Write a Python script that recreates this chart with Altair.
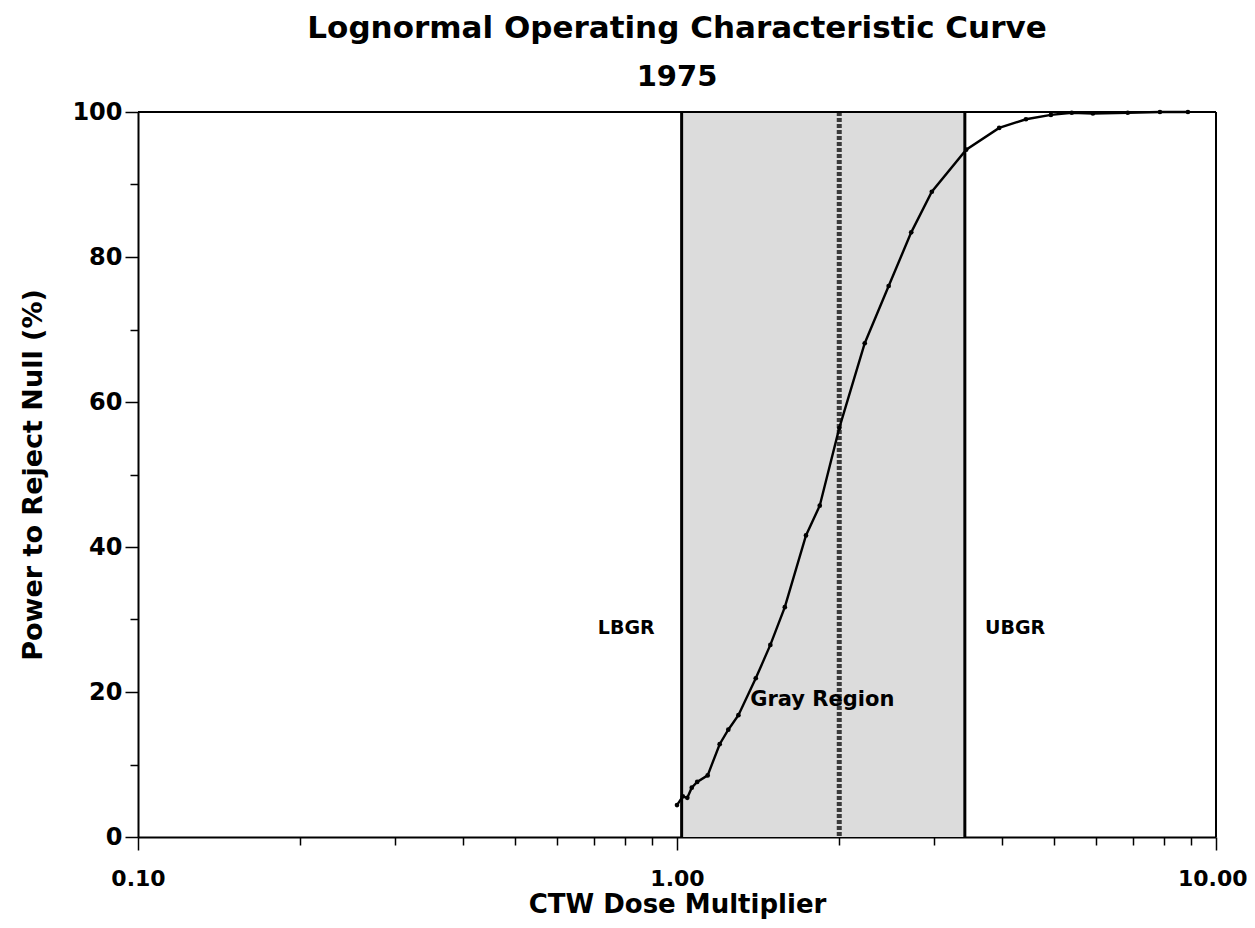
import altair as alt
import pandas as pd

# Curve data (CTW dose multiplier vs power %)
dose = [1.00, 1.025, 1.045, 1.065, 1.09, 1.14, 1.20, 1.245, 1.30, 1.40, 1.49, 1.585,
        1.735, 1.84, 2.00, 2.23, 2.47, 2.72, 2.97, 3.44, 3.96, 4.44, 4.94, 5.40,
        5.91, 6.86, 7.87, 8.87]
power = [4.4, 5.6, 5.4, 6.8, 7.6, 8.5, 12.8, 14.8, 16.8, 21.9, 26.5, 31.7,
         41.6, 45.7, 56.4, 68.1, 76.0, 83.4, 89.0, 94.8, 97.8, 99.0, 99.6, 99.9,
         99.8, 99.9, 100.0, 100.0]

lbgr = 1.02
ubgr = 3.42
center = 2.0

x_ticks = [0.1, 0.2, 0.3, 0.4, 0.5, 0.6, 0.7, 0.8, 0.9,
           1, 2, 3, 4, 5, 6, 7, 8, 9, 10]
y_ticks = [0, 10, 20, 30, 40, 50, 60, 70, 80, 90, 100]

FONT = "DejaVu Sans"
W, H = 1078, 725

curve = pd.DataFrame({"dose": dose, "power": power})
region = pd.DataFrame({"lo": [lbgr], "hi": [ubgr], "y0": [0], "y1": [100]})
bounds = pd.DataFrame({"b": [lbgr, ubgr]})
mid = pd.DataFrame({"b": [center]})

xscale = alt.Scale(type="log", domain=[0.1, 10])
yscale = alt.Scale(domain=[0, 100])

major_x = "datum.value == 0.1 || datum.value == 1 || datum.value == 10"
last_x = "datum.value == 10"
x_axis = alt.Axis(
    values=x_ticks,
    labelExpr=f"({major_x}) ? format(datum.value, '.2f') : ''",
    tickSize={"condition": {"test": major_x, "value": 13}, "value": 8},
    labelAlign={"condition": {"test": last_x, "value": "right"}, "value": "center"},
    labelOffset={"condition": {"test": last_x, "value": 31}, "value": 0},
    title="CTW Dose Multiplier",
    grid=False,
    labelFont=FONT, labelFontSize=22, labelFontWeight="bold", labelColor="black",
    labelPadding=18, labelFlush=False, labelOverlap=False,
    titleFont=FONT, titleFontSize=26, titleFontWeight="bold", titleColor="black",
    titlePadding=2,
    domainColor="black", domainWidth=2, tickColor="black", tickWidth=1.5,
)
major_y = "datum.value % 20 == 0"
y_axis = alt.Axis(
    values=y_ticks,
    labelExpr=f"({major_y}) ? datum.value : ''",
    tickSize={"condition": {"test": major_y, "value": 13}, "value": 8},
    title="Power to Reject Null (%)",
    grid=False,
    labelFont=FONT, labelFontSize=24, labelFontWeight="bold", labelColor="black",
    labelPadding=3, labelOverlap=False,
    titleFont=FONT, titleFontSize=27, titleFontWeight="bold", titleColor="black",
    titlePadding=24,
    domainColor="black", domainWidth=2, tickColor="black", tickWidth=1.5,
)

rect = alt.Chart(region).mark_rect(color="#dcdcdc").encode(
    x=alt.X("lo:Q", scale=xscale, axis=x_axis),
    x2="hi:Q",
    y=alt.Y("y0:Q", scale=yscale, axis=y_axis),
    y2="y1:Q",
)

frame_top = alt.Chart(mid).mark_rule(color="black", strokeWidth=2).encode(
    y=alt.datum(100, scale=yscale), x=alt.datum(0.1, scale=xscale), x2=alt.datum(10)
)
frame_right = alt.Chart(mid).mark_rule(color="black", strokeWidth=2).encode(
    x=alt.datum(10, scale=xscale), y=alt.datum(0, scale=yscale), y2=alt.datum(100)
)

rules = alt.Chart(bounds).mark_rule(color="black", strokeWidth=3).encode(
    x=alt.X("b:Q", scale=xscale)
)
mid_rule = alt.Chart(mid).mark_rule(color="#3a3a3a", strokeWidth=5, strokeDash=[4, 2]).encode(
    x=alt.X("b:Q", scale=xscale)
)

line = alt.Chart(curve).mark_line(color="black", strokeWidth=2.4).encode(
    x=alt.X("dose:Q", scale=xscale),
    y=alt.Y("power:Q", scale=yscale),
)
pts = alt.Chart(curve).mark_point(filled=True, color="black", size=22, opacity=1).encode(
    x=alt.X("dose:Q", scale=xscale),
    y=alt.Y("power:Q", scale=yscale),
)

def label(text, xv, yv, size):
    return alt.Chart(pd.DataFrame({"t": [text]})).mark_text(
        font=FONT, fontSize=size, fontWeight="bold", color="black",
        align="center", baseline="middle",
    ).encode(x=alt.datum(xv, scale=xscale), y=alt.datum(yv, scale=yscale), text="t:N")

texts = (label("LBGR", 0.805, 28.8, 19)
         + label("UBGR", 4.24, 28.8, 19)
         + label("Gray Region", 1.86, 18.9, 21))

chart = alt.layer(rect, rules, mid_rule, line, pts, frame_top, frame_right, texts).properties(
    width=W, height=H,
    title=alt.TitleParams(
        text="Lognormal Operating Characteristic Curve",
        subtitle="1975",
        font=FONT, fontSize=31, fontWeight="bold", color="black",
        subtitleFont=FONT, subtitleFontSize=29, subtitleFontWeight="bold",
        subtitleColor="black", subtitlePadding=18,
        anchor="middle", offset=7,
    ),
    autosize=alt.AutoSizeParams(type="none"),
    padding={"left": 130, "top": 104, "right": 31, "bottom": 83},
).configure_view(stroke="black", strokeWidth=2).configure(background="white")

chart.save("out.html", embed_options={"renderer": "svg", "actions": False})
